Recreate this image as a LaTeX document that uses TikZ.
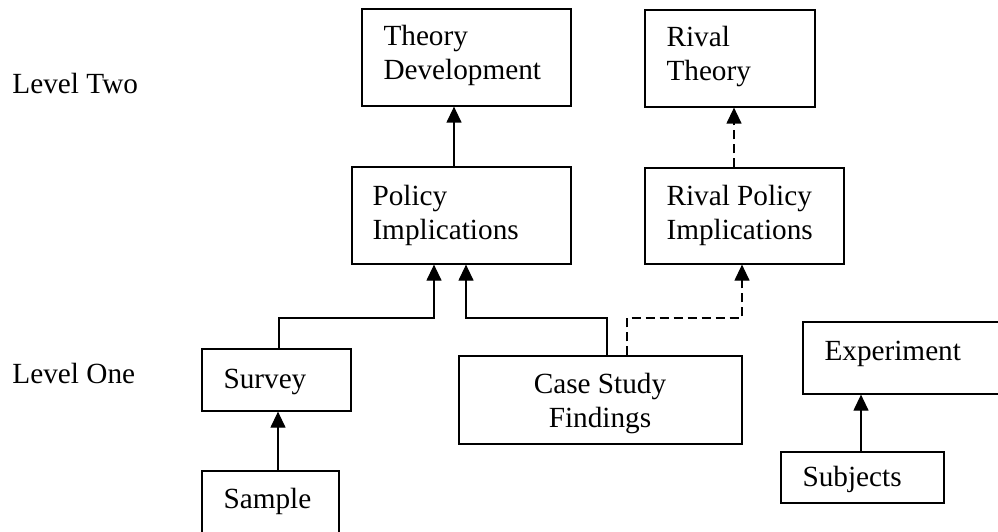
\documentclass[tikz,border=0pt]{standalone}
\usepackage{fontspec}
\setmainfont{Liberation Serif}
\usetikzlibrary{arrows.meta,fit}
\begin{document}
\begin{tikzpicture}[x=0.4pt,y=-0.4pt,
  box/.style={draw,line width=0.5pt,inner sep=0pt},
  txt/.style={inner sep=0pt,anchor=base west,align=left,font=\fontsize{11.7}{13.6}\selectfont},
  ctxt/.style={txt,anchor=base,align=center},
  link/.style={line width=0.5pt},
  arr/.style={link,-{Triangle[length=6.4pt,width=6pt]}},
  dsh/.style={dash pattern=on 3.6pt off 2pt}]
\useasboundingbox (0,0) rectangle (998,532);
\clip (0,0) rectangle (998,532);

% level labels
\node[txt] (lv2) at (12,94) {Level Two};
\node[txt] (lv1) at (12,383) {Level One};

% boxes
\node[box,fit={(362,9) (571,106)}] (theory) {};
\node[box,fit={(645,10) (815,107)}] (rtheory) {};
\node[box,fit={(352,167) (571,264)}] (policy) {};
\node[box,fit={(645,168) (844,264)}] (rpol) {};
\node[box,fit={(202,349) (351,411)}] (survey) {};
\node[box,fit={(459,356) (742,444)}] (case) {};
\node[box,fit={(202,471) (339,545)}] (sample) {};
\node[box,fit={(803,322) (1010,394)}] (exper) {};
\node[box,fit={(781,452) (944,503)}] (subj) {};

% box texts (two-line texts are placed by their last baseline)
\node[txt] (theory-t) at (383,80) {Theory\\Development};
\node[txt] (rtheory-t) at (666,81) {Rival\\Theory};
\node[txt] (policy-t) at (372,239) {Policy\\Implications};
\node[txt] (rpol-t) at (666,239) {Rival Policy\\Implications};
\node[txt] (survey-t) at (223,388) {Survey};
\node[ctxt] (case-t) at (600,427) {Case Study\\Findings};
\node[txt] (sample-t) at (223,508) {Sample};
\node[txt] (exper-t) at (824,360) {Experiment};
\node[txt] (subj-t) at (802,486) {Subjects};

% bend points of the connectors
\coordinate (sv) at (279,318);
\coordinate (pa) at (434,318);
\coordinate (pb) at (466,318);
\coordinate (cs) at (607,318);
\coordinate (cr) at (627,318);
\coordinate (rp) at (742,318);
\coordinate (pt) at (454,0);
\coordinate (rt) at (734,0);
\coordinate (sm) at (278,0);
\coordinate (sj) at (861,0);

% connectors
\draw[arr] (policy.north -| pt) -- (theory.south -| pt);
\draw[arr,dsh] (rpol.north -| rt) -- (rtheory.south -| rt);
\draw[arr] (survey.north -| sv) -- (sv) -- (pa) -- (policy.south -| pa);
\draw[arr] (case.north -| cs) -- (cs) -- (pb) -- (policy.south -| pb);
\draw[arr,dsh] (case.north -| cr) -- (cr) -- (rp) -- (rpol.south -| rp);
\draw[arr] (sample.north -| sm) -- (survey.south -| sm);
\draw[arr] (subj.north -| sj) -- (exper.south -| sj);
\end{tikzpicture}
\end{document}
